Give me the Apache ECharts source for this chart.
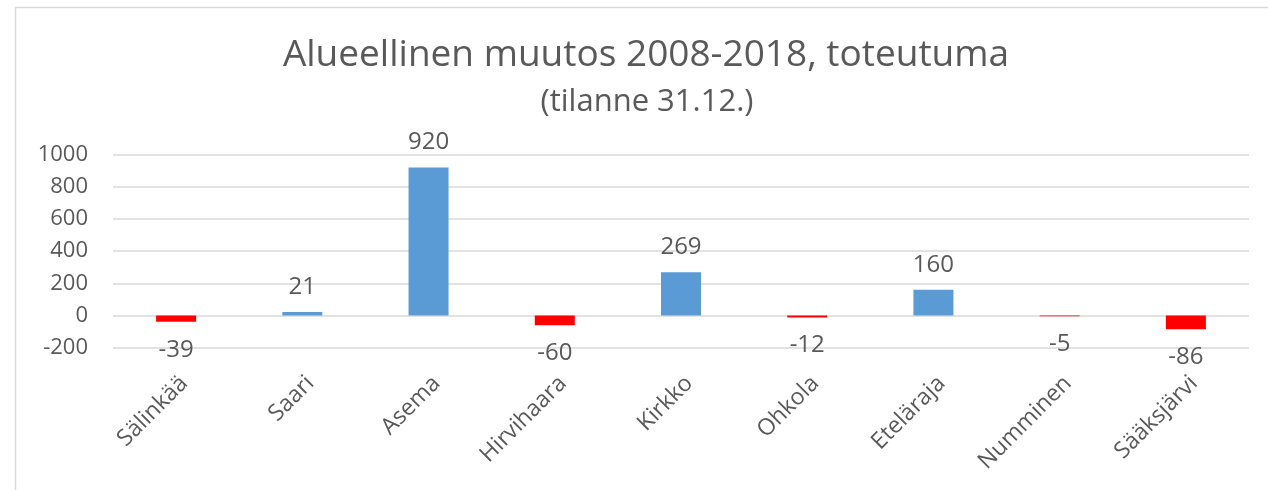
<!DOCTYPE html>
<html>
<head>
<meta charset="utf-8">
<script src="https://cdn.jsdelivr.net/npm/echarts@6/dist/echarts.min.js"></script>
<style>
  html, body { margin: 0; padding: 0; background: #fff; }
  #chart { width: 1268px; height: 490px; }
</style>
</head>
<body>
<div id="chart"></div>
<script>
const areas = ['Sälinkää', 'Saari', 'Asema', 'Hirvihaara', 'Kirkko', 'Ohkola', 'Eteläraja', 'Numminen', 'Sääksjärvi']
const changes = [-39, 21, 920, -60, 269, -12, 160, -5, -86]
const yTicks = { min: -200, max: 1000, interval: 200 }

const textColor = '#595959'
const font = '"Open Sans", sans-serif'

const chart = echarts.init(document.getElementById('chart'))

const barData = changes.map(v => ({
  value: v,
  itemStyle: { color: v < 0 ? '#FF0000' : '#5B9BD5' },
  label: { position: v < 0 ? 'bottom' : 'top', distance: v < 0 ? 16 : 13 }
}))

const option = {
  backgroundColor: '#fff',
  animation: false,
  title: [
    {
      text: 'Alueellinen muutos 2008-2018, toteutuma',
      left: 646,
      top: 37,
      textAlign: 'center',
      padding: 0,
      textStyle: { color: textColor, fontFamily: font, fontSize: 37, fontWeight: 'normal' }
    },
    {
      text: '(tilanne 31.12.)',
      left: 647,
      top: 87,
      textAlign: 'center',
      padding: 0,
      textStyle: { color: textColor, fontFamily: font, fontSize: 31, fontWeight: 'normal' }
    }
  ],
  // ulkoreunus kuten Excelin kaavioalue
  graphic: [
    {
      type: 'rect',
      shape: { x: 15.5, y: 7.5, width: 1400, height: 600 },
      style: { fill: 'none', stroke: '#D9D9D9', lineWidth: 1.5 },
      silent: true
    }
  ],
  grid: {
    left: 113,
    right: 19,
    top: 154.5,
    bottom: 142.3,
    containLabel: false
  },
  xAxis: {
    type: 'category',
    data: areas,
    axisLine: { show: false, onZero: false },
    axisTick: { show: false },
    axisLabel: {
      rotate: 45,
      interval: 0,
      margin: 24,
      verticalAlign: 'top',
      color: textColor,
      fontFamily: font,
      fontSize: 23
    }
  },
  yAxis: {
    type: 'value',
    min: yTicks.min,
    max: yTicks.max,
    interval: yTicks.interval,
    axisLine: { show: false },
    axisTick: { show: false },
    splitLine: { lineStyle: { color: '#D9D9D9', width: 1.5 } },
    axisLabel: {
      margin: 25,
      color: textColor,
      fontFamily: font,
      fontSize: 22,
      formatter: v => String(v)
    }
  },
  series: [
    {
      type: 'bar',
      barWidth: 40,
      data: barData,
      label: {
        show: true,
        color: textColor,
        fontFamily: font,
        fontSize: 24
      }
    }
  ]
}

chart.setOption(option)
</script>
</body>
</html>
